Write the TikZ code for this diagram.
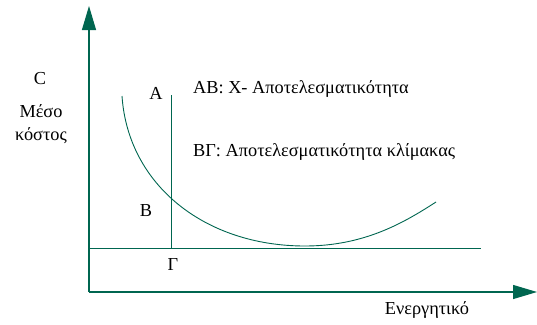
\documentclass[tikz,border=0pt]{standalone}
\usepackage{fontspec}
\setmainfont{Liberation Serif}
\usetikzlibrary{arrows.meta}
\definecolor{axgreen}{RGB}{0,102,80}
\begin{document}
\begin{tikzpicture}[x=1pt,y=-1pt,
  axis/.style={draw=axgreen,line width=1.1pt,-{Triangle[length=24pt,width=14pt]}},
  gline/.style={draw=axgreen,line width=0.9pt},
  lbl/.style={font=\fontsize{18.3}{22}\selectfont,inner sep=0pt}]
\useasboundingbox (0,0) rectangle (537,324);
\coordinate (O) at (89,292);
\coordinate (ytip) at (89,6);
\coordinate (xtip) at (537,292);
\draw[axis] (O) -- (ytip);
\draw[axis] (O) -- (xtip);
\coordinate (hl) at (89,248);
\coordinate (hr) at (481,248);
\draw[gline] (hl) -- (hr);
\coordinate (vt) at (171,95);
\coordinate (vb) at (171,248);
\draw[gline] (vt) -- (vb);
\coordinate (c0) at (122,96);
\coordinate (cmin) at (305,246);
\coordinate (c1) at (436,202);
\draw[gline] (c0) .. controls (128,185) and (205,246) .. (cmin) .. controls (365,246) and (405,222) .. (c1);
\node[lbl] (C) at (40,79) {C};
\node[lbl] (meso) at (41,111) {Μέσο};
\node[lbl] (kostos) at (41,136) {κόστος};
\node[lbl] (A) at (156,93) {A};
\node[lbl] (B) at (146,211) {B};
\node[lbl] (G) at (173,265) {Γ};
\node[lbl,anchor=west] (ab) at (193,89) {ΑΒ: Χ- Αποτελεσματικότητα};
\node[lbl,anchor=west] (bg) at (193,152) {ΒΓ: Αποτελεσματικότητα κλίμακας};
\node[lbl] (en) at (427,310) {Ενεργητικό};
\end{tikzpicture}
\end{document}
